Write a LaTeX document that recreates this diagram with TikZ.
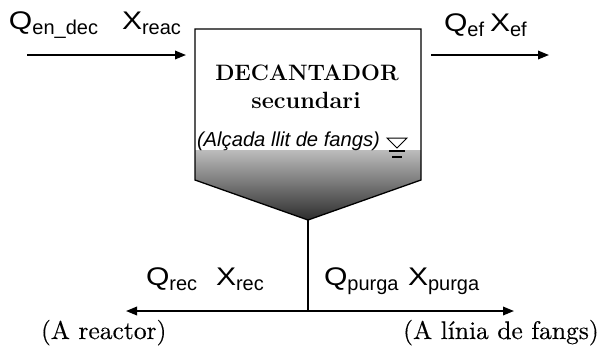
\documentclass[tikz,border=0pt]{standalone}
\usepackage{fontspec}
\usepackage{graphicx}
\usetikzlibrary{arrows.meta}
\newfontfamily\lsans{Liberation Sans}
\newfontfamily\heavyserif{lmroman10-regular.otf}[FakeBold=0.3]
\definecolor{sludgetop}{RGB}{188,188,188}
\definecolor{sludgebot}{RGB}{45,45,45}
\newcommand\qxlab[2]{{\lsans\fontsize{25.5}{25.5}\selectfont\scalebox{1.18}[1]{#1}}{\lsans\fontsize{20}{20}\selectfont\raisebox{-5pt}{#2}}}
\begin{document}
\begin{tikzpicture}[x=1pt,y=-1pt,
  lab/.style={anchor=base west, inner sep=0pt, outer sep=0pt},
  flow/.style={line width=1.8pt, -{Triangle[length=11pt,width=8.5pt]}},
  wall/.style={line width=1.3pt, line join=miter}]
\useasboundingbox (0,0) rectangle (600,346);
% tank corners
\coordinate (tl) at (195,29);
\coordinate (tr) at (421,29);
\coordinate (sr) at (421,180);
\coordinate (sl) at (195,180);
\coordinate (apex) at (308,220);
\coordinate (gl) at (195,150);
\coordinate (gr) at (421,150);
% sludge shading
\shade[top color=sludgetop, bottom color=sludgebot] (gl) -- (gr) -- (sr) -- (apex) -- (sl) -- cycle;
\draw[wall] (tl) -- (tr) -- (sr) -- (apex) -- (sl) -- cycle;
% texts in tank
\node[anchor=base, inner sep=0pt, font=\bfseries\fontsize{22.3}{22.3}\selectfont] (t1) at (307,80) {DECANTADOR};
\node[anchor=base, inner sep=0pt, font=\bfseries\fontsize{23.5}{23.5}\selectfont] (t2) at (306,108) {secundari};
\node[lab, font=\lsans\itshape\fontsize{20.2}{20.2}\selectfont] (t3) at (197,146) {(Alçada llit de fangs)};
% water level symbol
\coordinate (w1) at (387,138);
\coordinate (w2) at (407,138);
\coordinate (w3) at (397,148);
\draw[line width=1pt] (w1) -- (w2) -- (w3) -- cycle;
\coordinate (l1a) at (389,151); \coordinate (l1b) at (405,151);
\coordinate (l2a) at (392,157); \coordinate (l2b) at (402,157);
\draw[line width=1.2pt] (l1a) -- (l1b);
\draw[line width=1.2pt] (l2a) -- (l2b);
% inflow
\coordinate (inA) at (27,55);
\coordinate (inB) at (186,55);
\draw[flow] (inA) -- (inB);
\node[lab] (qin) at (9,29) {\qxlab{Q}{en\_dec}};
\node[lab] (xin) at (122,29) {\qxlab{X}{reac}};
% effluent
\coordinate (efA) at (431,55);
\coordinate (efB) at (549,55);
\draw[flow] (efA) -- (efB);
\node[lab] (qef) at (444,31) {\qxlab{Q}{ef}};
\node[lab] (xef) at (490,31) {\qxlab{X}{ef}};
% underflow
\coordinate (junc) at (308,311);
\coordinate (recE) at (126,311);
\coordinate (purE) at (514,311);
\draw[line width=1.8pt] (apex) -- (junc);
\draw[flow] (junc) -- (recE);
\draw[flow] (junc) -- (purE);
\node[lab] (qrec) at (146,285) {\qxlab{Q}{rec}};
\node[lab] (xrec) at (216,285) {\qxlab{X}{rec}};
\node[lab] (qpur) at (324,285) {\qxlab{Q}{purga}};
\node[lab] (xpur) at (408,285) {\qxlab{X}{purga}};
\node[lab, font=\heavyserif\fontsize{25.5}{25.5}\selectfont] (rea) at (41,339) {(A reactor)};
\node[anchor=base east, inner sep=0pt, font=\heavyserif\fontsize{25.5}{25.5}\selectfont] (fan) at (599,339) {(A línia de fangs)};
\end{tikzpicture}
\end{document}
